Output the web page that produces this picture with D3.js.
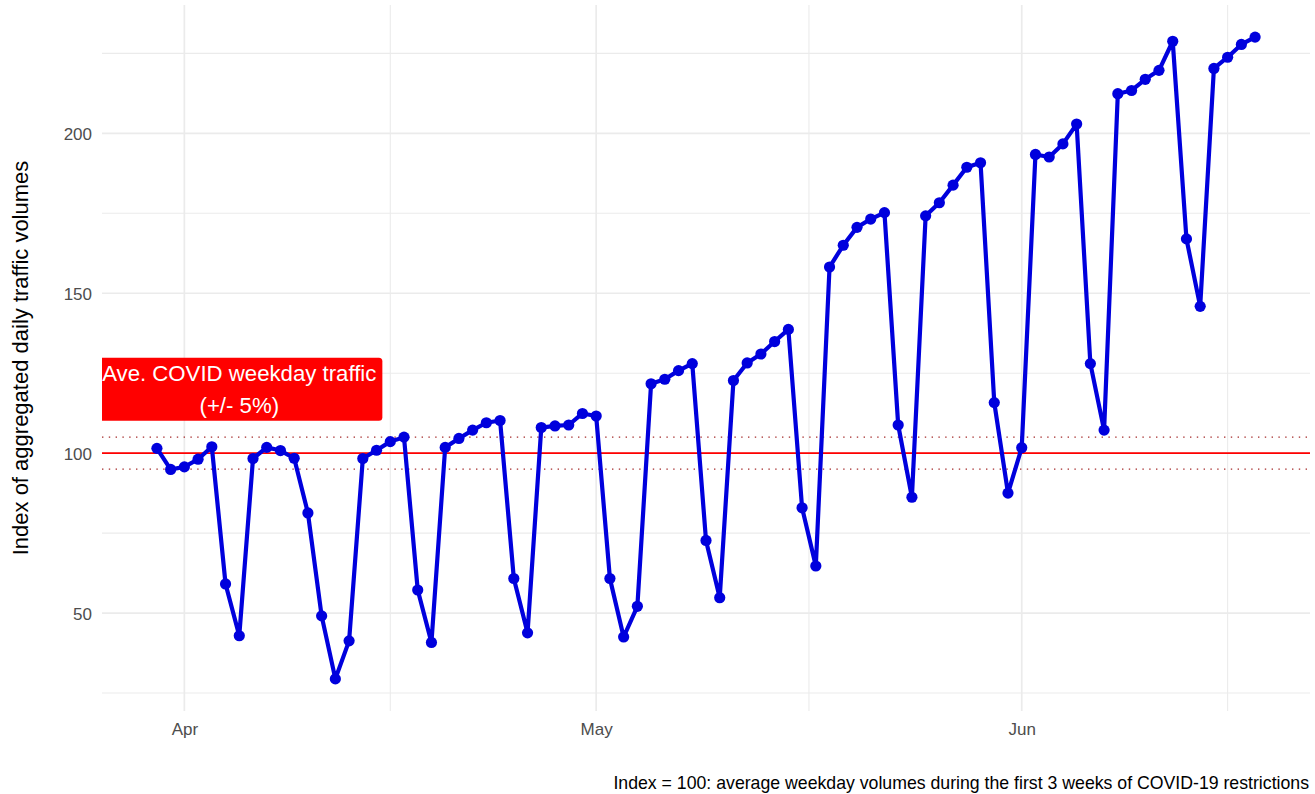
<!DOCTYPE html>
<html>
<head>
<meta charset="utf-8">
<script src="https://cdn.jsdelivr.net/npm/d3@7"></script>
<style>
  html, body { margin: 0; padding: 0; background: #ffffff; }
  svg { display: block; font-family: "Liberation Sans", Arial, Helvetica, sans-serif; }
</style>
</head>
<body>
<svg id="chart" width="1315" height="794"></svg>
<script>
// ---------- data ----------
const dates = [
  "2020-03-30","2020-03-31","2020-04-01","2020-04-02","2020-04-03","2020-04-04","2020-04-05",
  "2020-04-06","2020-04-07","2020-04-08","2020-04-09","2020-04-10","2020-04-11","2020-04-12",
  "2020-04-13","2020-04-14","2020-04-15","2020-04-16","2020-04-17","2020-04-18","2020-04-19",
  "2020-04-20","2020-04-21","2020-04-22","2020-04-23","2020-04-24","2020-04-25","2020-04-26",
  "2020-04-27","2020-04-28","2020-04-29","2020-04-30","2020-05-01","2020-05-02","2020-05-03",
  "2020-05-04","2020-05-05","2020-05-06","2020-05-07","2020-05-08","2020-05-09","2020-05-10",
  "2020-05-11","2020-05-12","2020-05-13","2020-05-14","2020-05-15","2020-05-16","2020-05-17",
  "2020-05-18","2020-05-19","2020-05-20","2020-05-21","2020-05-22","2020-05-23","2020-05-24",
  "2020-05-25","2020-05-26","2020-05-27","2020-05-28","2020-05-29","2020-05-30","2020-05-31",
  "2020-06-01","2020-06-02","2020-06-03","2020-06-04","2020-06-05","2020-06-06","2020-06-07",
  "2020-06-08","2020-06-09","2020-06-10","2020-06-11","2020-06-12","2020-06-13","2020-06-14",
  "2020-06-15","2020-06-16","2020-06-17","2020-06-18"
];
const indexValues = [
  101.5, 94.9, 95.7, 98.1, 102.0, 59.1, 42.9,
  98.3, 101.8, 100.8, 98.4, 81.3, 49.1, 29.4,
  41.3, 98.3, 100.9, 103.6, 105.0, 57.2, 40.8,
  101.8, 104.6, 107.2, 109.5, 110.2, 60.8, 43.8,
  108.0, 108.5, 108.8, 112.4, 111.6, 60.8, 42.5,
  52.1, 121.7, 123.1, 125.8, 128.0, 72.7, 54.8,
  122.7, 128.2, 131.0, 134.9, 138.7, 82.9, 64.7,
  158.2, 165.0, 170.6, 173.2, 175.2, 108.8, 86.2,
  174.2, 178.3, 183.8, 189.4, 190.8, 115.8, 87.5,
  101.7, 193.4, 192.6, 196.7, 202.9, 128.0, 107.2,
  212.4, 213.4, 216.9, 219.7, 228.8, 167.0, 145.9,
  220.3, 223.8, 227.8, 230.1
];
const referenceLevel = 100;
const bandLevels = [95, 105];
const xTickDates = ["2020-04-01", "2020-05-01", "2020-06-01"];
const xTickLabels = ["Apr", "May", "Jun"];
const xMinorDates = ["2020-04-16", "2020-05-16T12:00", "2020-06-16"];
const yTicks = [50, 100, 150, 200];
const yMinorTicks = [25, 75, 125, 175, 225];
const labelDate = "2020-04-05";
const labelValue = 120;
const labelLines = ["Ave. COVID weekday traffic", "(+/- 5%)"];
const yTitle = "Index of aggregated daily traffic volumes";
const captionText = "Index = 100: average weekday volumes during the first 3 weeks of COVID-19 restrictions";

// ---------- setup ----------
const parse = s => new Date(s.length > 10 ? s : s + "T00:00");
const data = dates.map((d, i) => ({ date: parse(d), value: indexValues[i] }));

const W = 1315, H = 794;
const panel = { left: 102, right: 1310, top: 5, bottom: 711 };
const FONT = "'Liberation Sans', Arial, Helvetica, sans-serif";

const xExt = d3.extent(data, d => d.date);
const xPad = (xExt[1] - xExt[0]) * 0.05;
const x = d3.scaleTime()
  .domain([new Date(+xExt[0] - xPad), new Date(+xExt[1] + xPad)])
  .range([panel.left, panel.right]);

const yExt = d3.extent(data, d => d.value);
const yPad = (yExt[1] - yExt[0]) * 0.05;
const y = d3.scaleLinear()
  .domain([yExt[0] - yPad, yExt[1] + yPad])
  .range([panel.bottom, panel.top]);

const svg = d3.select("#chart");

svg.append("defs").append("clipPath").attr("id", "panelClip")
  .append("rect")
  .attr("x", panel.left).attr("y", panel.top)
  .attr("width", panel.right - panel.left).attr("height", panel.bottom - panel.top);

const grid = svg.append("g");
const gridColor = "#ebebeb";

// minor gridlines
grid.selectAll("line.ymin").data(yMinorTicks).join("line")
  .attr("x1", panel.left).attr("x2", panel.right)
  .attr("y1", d => y(d)).attr("y2", d => y(d))
  .attr("stroke", gridColor).attr("stroke-width", 1.1);
grid.selectAll("line.xmin").data(xMinorDates.map(parse)).join("line")
  .attr("y1", panel.top).attr("y2", panel.bottom)
  .attr("x1", d => x(d)).attr("x2", d => x(d))
  .attr("stroke", gridColor).attr("stroke-width", 1.1);

// major gridlines
grid.selectAll("line.ymaj").data(yTicks).join("line")
  .attr("x1", panel.left).attr("x2", panel.right)
  .attr("y1", d => y(d)).attr("y2", d => y(d))
  .attr("stroke", gridColor).attr("stroke-width", 1.7);
grid.selectAll("line.xmaj").data(xTickDates.map(parse)).join("line")
  .attr("y1", panel.top).attr("y2", panel.bottom)
  .attr("x1", d => x(d)).attr("x2", d => x(d))
  .attr("stroke", gridColor).attr("stroke-width", 1.7);

// axes (text only, theme_minimal style)
const xAxis = d3.axisBottom(x)
  .tickValues(xTickDates.map(parse))
  .tickFormat((d, i) => xTickLabels[i])
  .tickSize(0).tickPadding(0);
const gx = svg.append("g").attr("transform", `translate(0,${panel.bottom})`).call(xAxis);
gx.select(".domain").remove();
gx.selectAll("text")
  .attr("y", 23.5).attr("dy", "0")
  .attr("fill", "#4d4d4d").style("font-size", "17px")
  .style("font-family", FONT);

const yAxis = d3.axisLeft(y).tickValues(yTicks).tickSize(0).tickPadding(0);
const gy = svg.append("g").attr("transform", `translate(92,0)`).call(yAxis);
gy.select(".domain").remove();
gy.selectAll("text")
  .attr("x", 0).attr("dy", "0.36em")
  .attr("fill", "#4d4d4d").style("font-size", "17px")
  .style("font-family", FONT);

// reference lines
const plot = svg.append("g").attr("clip-path", "url(#panelClip)");
plot.selectAll("line.band").data(bandLevels).join("line")
  .attr("x1", panel.left).attr("x2", panel.right)
  .attr("y1", d => y(d)).attr("y2", d => y(d))
  .attr("stroke", "#a52a2a").attr("stroke-width", 1.3)
  .attr("stroke-dasharray", "1.4,5.4");
plot.append("line")
  .attr("x1", panel.left).attr("x2", panel.right)
  .attr("y1", y(referenceLevel)).attr("y2", y(referenceLevel))
  .attr("stroke", "#ff0000").attr("stroke-width", 1.8);

// label
const lg = plot.append("g");
const lx = x(parse(labelDate)), ly = y(labelValue);
const lt = lg.append("text")
  .attr("x", lx).attr("text-anchor", "middle")
  .attr("fill", "#ffffff").style("font-size", "22.2px");
lt.selectAll("tspan").data(labelLines).join("tspan")
  .attr("x", lx)
  .attr("y", (d, i) => ly - 8 + i * 32)
  .text(d => d);
const bb = lt.node().getBBox();
lg.insert("rect", "text")
  .attr("x", lx - bb.width / 2 - 6)
  .attr("width", bb.width + 12)
  .attr("y", ly - 31.5).attr("height", 63)
  .attr("rx", 3.5).attr("ry", 3.5)
  .attr("fill", "#ff0000");

// line + points
const line = d3.line().x(d => x(d.date)).y(d => y(d.value));
plot.append("path").datum(data)
  .attr("d", line)
  .attr("fill", "none")
  .attr("stroke", "#0000dd")
  .attr("stroke-width", 4.2)
  .attr("stroke-linejoin", "round");
plot.selectAll("circle").data(data).join("circle")
  .attr("cx", d => x(d.date)).attr("cy", d => y(d.value))
  .attr("r", 5.6).attr("fill", "#0000dd");

// y title
svg.append("text")
  .attr("transform", `translate(28,${(panel.top + panel.bottom) / 2}) rotate(-90)`)
  .attr("text-anchor", "middle")
  .attr("fill", "#000000").style("font-size", "22px")
  .text(yTitle);

// caption
svg.append("text")
  .attr("x", 1309).attr("y", 789)
  .attr("text-anchor", "end")
  .attr("fill", "#000000").style("font-size", "17.7px")
  .text(captionText);
</script>
</body>
</html>
